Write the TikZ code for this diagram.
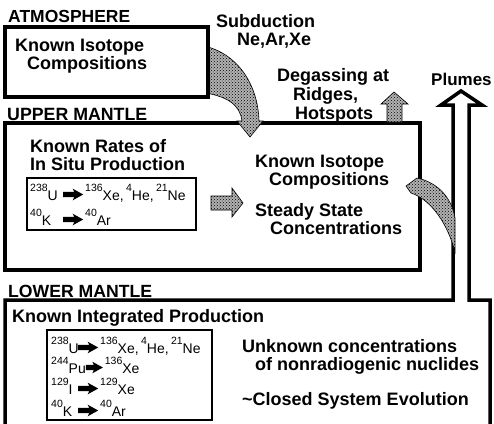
\documentclass[tikz,border=0pt]{standalone}
\usepackage{fontspec}
\setmainfont{Liberation Sans}
\usetikzlibrary{patterns}
\newcommand\isot[2]{\raisebox{8.5pt}{\fontsize{10.5}{11}\selectfont #1}#2}
\newcommand\rxar{\tikz[baseline=-5.5pt]\fill (0pt,-2.6pt) -- (11pt,-2.6pt) -- (9.5pt,-5.8pt) -- (20pt,0pt) -- (9.5pt,5.8pt) -- (11pt,2.6pt) -- (0pt,2.6pt) -- cycle;\hspace{2pt}}
\newcommand\rxarshort{\tikz[baseline=-5.5pt]\fill (0pt,-2.6pt) -- (8pt,-2.6pt) -- (6.5pt,-5.8pt) -- (17pt,0pt) -- (6.5pt,5.8pt) -- (8pt,2.6pt) -- (0pt,2.6pt) -- cycle;\hspace{2pt}}
\newcommand\hdrtxt[2]{\resizebox{#1pt}{!}{\bfseries #2}}
\begin{document}
\begin{tikzpicture}[x=1pt,y=-1pt,
  hdr/.style={anchor=base west,inner sep=0pt,font=\fontsize{17}{19}\selectfont},
  txt/.style={anchor=base west,inner sep=0pt,text height=12.5pt,text depth=3pt,font=\bfseries\fontsize{18}{20}\selectfont},
  rx/.style={anchor=base west,inner sep=0pt,font=\fontsize{14}{15}\selectfont},
  frame/.style={line width=3.5pt,line join=miter},
  inbox/.style={line width=2pt},
  texture/.style={preaction={fill=gray!60},pattern=crosshatch dots,pattern color=black,draw=black,line width=0.6pt}]
\useasboundingbox (0,0) rectangle (494,423);
\fill[white] (0,0) rectangle (494,423);
% upper mantle box
\draw[frame] (5,123) rectangle (420,270);
% lower mantle box joined with plume arrow
\draw[frame] (5,440) -- (5,300) -- (453,300) -- (453,105) -- (441,105) -- (461,91) -- (482,105) -- (469,105) -- (469,300) -- (490,300) -- (490,440);
% subduction arrow
\draw[texture] (200,45) .. controls (238,52) and (258,85) .. (259,121) -- (263,121) -- (250,137) -- (237,121) -- (242,121) .. controls (240,105) and (228,96) .. (200,92) -- cycle;
% atmosphere box
\draw[frame,fill=white] (5,27) rectangle (208,97);
% swoosh into plume
\draw[texture] (406,186) -- (417,178) .. controls (440,183) and (452,200) .. (455,218) -- (455,252) .. controls (448,225) and (432,200) .. (411,193) -- cycle;
% degassing arrow
\draw[texture] (387,122) -- (387,104) -- (381,104) -- (394,92) -- (408,104) -- (402,104) -- (402,122) -- cycle;
% arrow in upper mantle
\draw[texture] (211,196) -- (232,196) -- (232,188) -- (243,203) -- (232,217) -- (232,210) -- (211,210) -- cycle;
% inner boxes
\draw[inbox] (27,178) rectangle (196,230);
\draw[inbox] (47,330) rectangle (212,420);
% headers
\node[hdr] (atm) at (8,22) {\hdrtxt{122}{ATMOSPHERE}};
\node[hdr] (um) at (7,120) {\hdrtxt{140}{UPPER MANTLE}};
\node[hdr] (lm) at (8,297) {\hdrtxt{144}{LOWER MANTLE}};
% atmosphere text
\node[txt] (a1) at (15,51) {Known Isotope};
\node[txt] (a2) at (27,69) {Compositions};
% outside labels
\node[txt] (sub1) at (216,27) {Subduction};
\node[txt] (sub2) at (237,45) {Ne,Ar,Xe};
\node[txt] (dg1) at (277,81) {Degassing at};
\node[txt] (dg2) at (293,100) {Ridges,};
\node[txt] (dg3) at (295,119) {Hotspots};
\node[txt,font=\bfseries\fontsize{17}{19}\selectfont] (pl) at (431,85) {Plumes};
% upper mantle text
\node[txt] (u1) at (30,152) {Known Rates of};
\node[txt] (u2) at (30,170) {In Situ Production};
\node[txt] (u3) at (255,167) {Known Isotope};
\node[txt] (u4) at (269,185) {Compositions};
\node[txt] (u5) at (255,216) {Steady State};
\node[txt] (u6) at (270,234) {Concentrations};
\node[rx] (r1) at (30,200) {\makebox[33pt][l]{\isot{238}{U}}\rxar\isot{136}{Xe,}\,\isot{4}{He,}\,\isot{21}{Ne}};
\node[rx] (r2) at (30,225) {\makebox[33pt][l]{\isot{40}{K}}\rxar\isot{40}{Ar}};
% lower mantle text
\node[txt] (l1) at (12,322) {Known Integrated Production};
\node[txt] (l2) at (242,352) {Unknown concentrations};
\node[txt] (l3) at (255,370) {of nonradiogenic nuclides};
\node[txt] (l4) at (242,405) {\textasciitilde Closed System Evolution};
\node[rx] (s1) at (51,353) {\makebox[27pt][l]{\isot{238}{U}}\rxar\isot{136}{Xe,}\,\isot{4}{He,}\,\isot{21}{Ne}};
\node[rx] (s2) at (51,373) {\isot{244}{Pu}\rxarshort\isot{136}{Xe}};
\node[rx] (s3) at (51,394) {\makebox[27pt][l]{\isot{129}{I}}\rxar\isot{129}{Xe}};
\node[rx] (s4) at (51,416) {\makebox[27pt][l]{\isot{40}{K}}\rxar\isot{40}{Ar}};
\end{tikzpicture}
\end{document}
